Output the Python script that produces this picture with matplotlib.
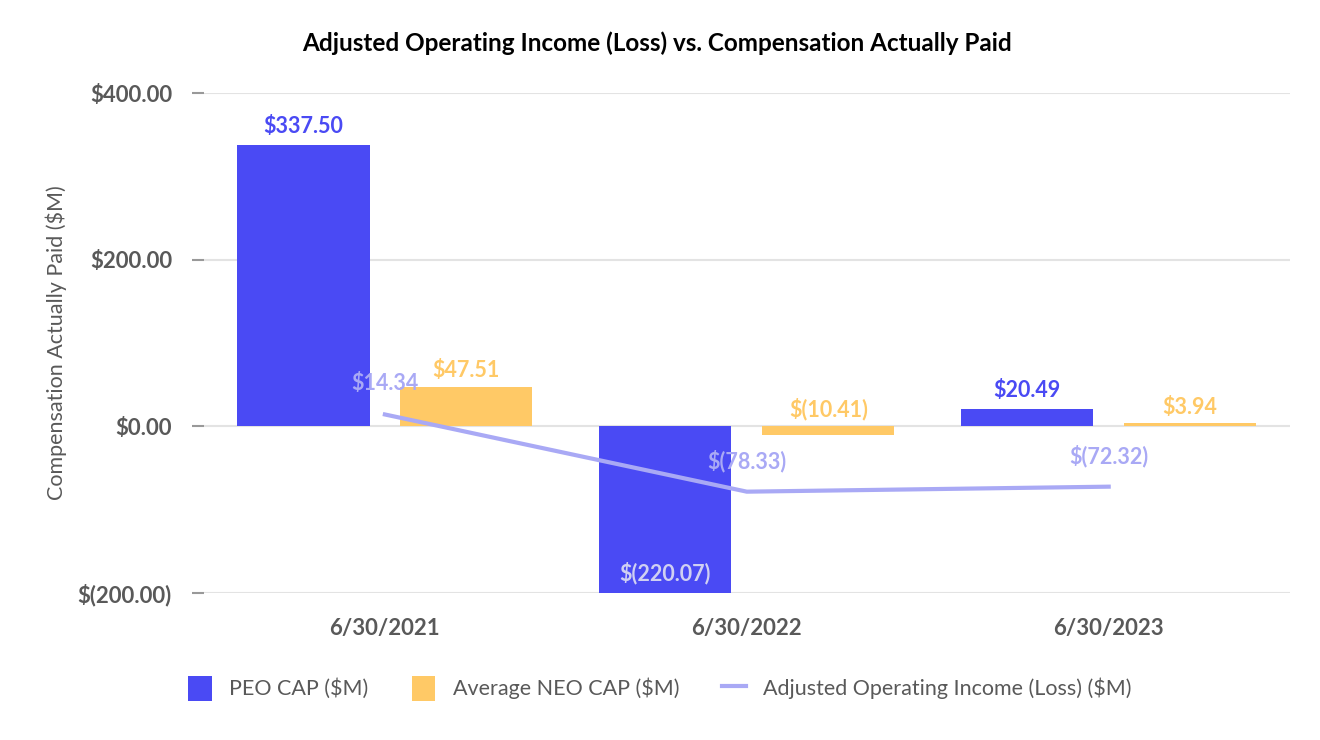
import matplotlib.pyplot as plt
import numpy as np

plt.rcParams['font.family'] = ['Lato', 'DejaVu Sans']

categories = ['6/30/2021', '6/30/2022', '6/30/2023']
peo_cap = [337.50, -220.07, 20.49]
neo_cap = [47.51, -10.41, 3.94]
adj_op_income = [14.34, -78.33, -72.32]

c_peo = '#4a4af4'
c_neo = '#ffc966'
c_line = '#a9a9f5'
c_text = '#595959'


def fmt(v):
    if v < 0:
        return f'$({abs(v):,.2f})'
    return f'${v:,.2f}'


fig = plt.figure(figsize=(13.2, 7.4), dpi=100)
ax = fig.add_axes([0.1545, 0.1986, 0.8225, 0.6755])

x = np.arange(len(categories))
w = 0.365
off = 0.225
ymin, ymax = -200, 400

b1 = ax.bar(x - off, peo_cap, w, color=c_peo, label='PEO CAP ($M)', zorder=2)
b2 = ax.bar(x + off, neo_cap, w, color=c_neo, label='Average NEO CAP ($M)', zorder=2)
l1, = ax.plot(x, adj_op_income, color=c_line, lw=3, label='Adjusted Operating Income (Loss) ($M)', zorder=3)

ax.set_xlim(-0.5, 2.5)
ax.set_ylim(ymin, ymax)
ax.set_yticks([-200, 0, 200, 400])
ax.set_yticklabels([fmt(v) for v in [-200, 0, 200, 400]])
ax.set_xticks(x)
ax.set_xticklabels(categories)

for s in ax.spines.values():
    s.set_visible(False)
ax.grid(axis='y', color='#e3e3e3', lw=1.5, zorder=0)
ax.tick_params(axis='y', length=9, width=1.5, color='#999999', pad=14,
               labelsize=16, labelcolor=c_text)
ax.tick_params(axis='x', length=0, pad=18, labelsize=16, labelcolor=c_text)
for t in ax.get_yticklabels() + ax.get_xticklabels():
    t.set_fontweight('bold')

ax.set_ylabel('Compensation Actually Paid ($M)', fontsize=15.5, color=c_text, labelpad=8)

# bar labels
for xi, v in zip(x, peo_cap):
    if v < ymin:
        ax.annotate(fmt(v), (xi - off, ymin), xytext=(0, 6), textcoords='offset points',
                    ha='center', va='bottom', fontsize=15.5, fontweight='bold', color='#d0d0f2', zorder=4)
    else:
        ax.annotate(fmt(v), (xi - off, max(v, 0)), xytext=(0, 6), textcoords='offset points',
                    ha='center', va='bottom', fontsize=15.5, fontweight='bold', color=c_peo, zorder=4)
for xi, v in zip(x, neo_cap):
    ax.annotate(fmt(v), (xi + off, max(v, 0)), xytext=(0, 4), textcoords='offset points',
                ha='center', va='bottom', fontsize=15.5, fontweight='bold', color=c_neo, zorder=4)
for xi, v in zip(x, adj_op_income):
    ax.annotate(fmt(v), (xi, v), xytext=(0, 22), textcoords='offset points',
                ha='center', va='center', fontsize=15.5, fontweight='bold', color=c_line, zorder=4)

fig.suptitle('Adjusted Operating Income (Loss) vs. Compensation Actually Paid',
             x=0.498, y=0.958, fontsize=17.5, fontweight='bold')

leg = fig.legend([b1, b2, l1], [b1.get_label(), b2.get_label(), l1.get_label()],
                 loc='center', bbox_to_anchor=(0.5, 0.07), ncol=3, frameon=False,
                 fontsize=15.5, handlelength=1.1, handleheight=1.4, columnspacing=2.0)
for t in leg.get_texts():
    t.set_color(c_text)

fig.savefig('out.png', dpi=100)
